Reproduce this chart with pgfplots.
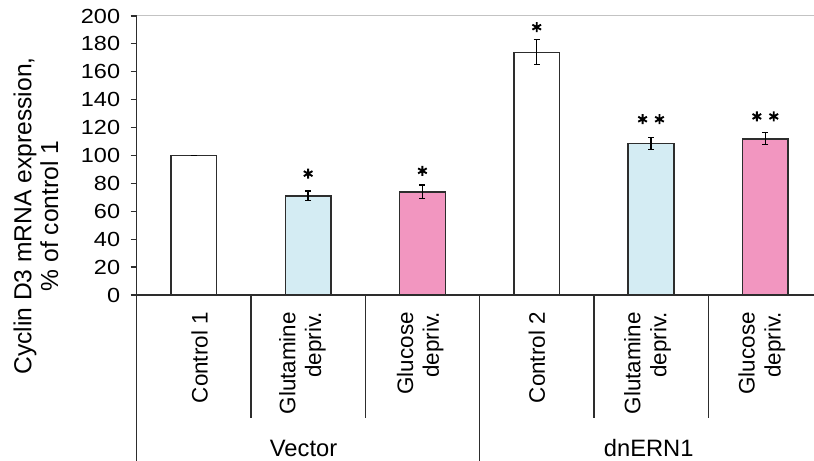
\documentclass[border=0pt]{standalone}
\usepackage{fontspec}
\setmainfont{Liberation Sans}
\usepackage{pgfplots}
\pgfplotsset{compat=1.18}
\definecolor{lblue}{RGB}{212,236,243}
\definecolor{pinkb}{RGB}{242,150,192}
\definecolor{edge}{RGB}{45,45,45}
\definecolor{topline}{RGB}{195,195,195}

\begin{document}
\begin{tikzpicture}[x=1bp,y=1bp]
\useasboundingbox (0,0) rectangle (814,461);
\begin{axis}[
  at={(136.7bp,166bp)}, anchor=south west,
  scale only axis, width=677.3bp, height=279bp,
  xmin=-0.5, xmax=5.426, ymin=0, ymax=200,
  axis x line*=bottom, axis y line*=left,
  axis line style={edge, line width=1.3bp, -},
  xtick=\empty,
  ytick={0,20,...,200},
  tick align=outside, major tick length=6bp,
  tick style={edge, line width=1.2bp},
  yticklabel style={font=\fontsize{20.5}{23}\selectfont, xscale=1.15, inner sep=0pt, xshift=-9bp},
  /pgf/number format/assume math mode=true,
  clip=false,
]
% top grey line
\draw[topline, line width=1bp] (axis cs:-0.5,200) -- (axis cs:5.426,200);

% bars
\addplot[ybar, bar shift=0pt, bar width=0.4, fill=white, draw=edge, line width=1.5bp,
  error bars/.cd, y dir=both, y explicit,
  error bar style={line width=1.3bp, black},
  error mark options={rotate=90, mark size=3bp, line width=1.3bp, black}]
  coordinates {(0,100) +- (0,0) (3,174) +- (0,9)};
\addplot[ybar, bar shift=0pt, bar width=0.4, fill=lblue, draw=edge, line width=1.5bp,
  error bars/.cd, y dir=both, y explicit,
  error bar style={line width=1.3bp, black},
  error mark options={rotate=90, mark size=3bp, line width=1.3bp, black}]
  coordinates {(1,71) +- (0,3.5) (4,108.7) +- (0,4.3)};
\addplot[ybar, bar shift=0pt, bar width=0.4, fill=pinkb, draw=edge, line width=1.5bp,
  error bars/.cd, y dir=both, y explicit,
  error bar style={line width=1.3bp, black},
  error mark options={rotate=90, mark size=3bp, line width=1.3bp, black}]
  coordinates {(2,74) +- (0,4.8) (5,112) +- (0,4.3)};

% significance asterisks
\addplot[only marks, mark=asterisk, mark size=5bp, mark options={line width=1.9bp, black}]
  coordinates {(1,87) (2,89) (3,192) (3.926,126) (4.074,126) (4.926,128) (5.074,128)};

% category table lines
\draw[edge, line width=1.3bp] (axis cs:-0.5,0) -- (axis cs:-0.5,-120);
\draw[edge, line width=1.3bp] (axis cs:2.5,0) -- (axis cs:2.5,-120);
\draw[edge, line width=1.3bp] (axis cs:0.5,0) -- (axis cs:0.5,-88.2);
\draw[edge, line width=1.3bp] (axis cs:1.5,0) -- (axis cs:1.5,-88.2);
\draw[edge, line width=1.3bp] (axis cs:3.5,0) -- (axis cs:3.5,-88.2);
\draw[edge, line width=1.3bp] (axis cs:4.5,0) -- (axis cs:4.5,-88.2);

% category labels
\tikzset{catlab/.style={rotate=90, anchor=east, align=right, inner sep=0pt,
  font=\fontsize{22.5}{26}\selectfont}}
\node[catlab] at (axis cs:0.05,-12.2) {Control 1};
\node[catlab] at (axis cs:0.95,-12.2) {Glutamine\\depriv.};
\node[catlab] at (axis cs:1.98,-12.2) {Glucose\\depriv.};
\node[catlab] at (axis cs:3,-12.2) {Control 2};
\node[catlab] at (axis cs:3.97,-12.2) {Glutamine\\depriv.};
\node[catlab] at (axis cs:4.97,-12.2) {Glucose\\depriv.};

% group labels
\node[font=\fontsize{23.8}{27}\selectfont, inner sep=0pt] at (axis cs:0.96,-109.7) {Vector};
\node[font=\fontsize{23.8}{27}\selectfont, inner sep=0pt] at (axis cs:3.98,-109.7) {dnERN1};
\end{axis}

% y label
\node[rotate=90, align=center, inner sep=0pt, font=\fontsize{24.7}{27}\selectfont]
  at (36,245) {Cyclin D3 mRNA expression,\\\% of control 1};
\end{tikzpicture}
\end{document}
